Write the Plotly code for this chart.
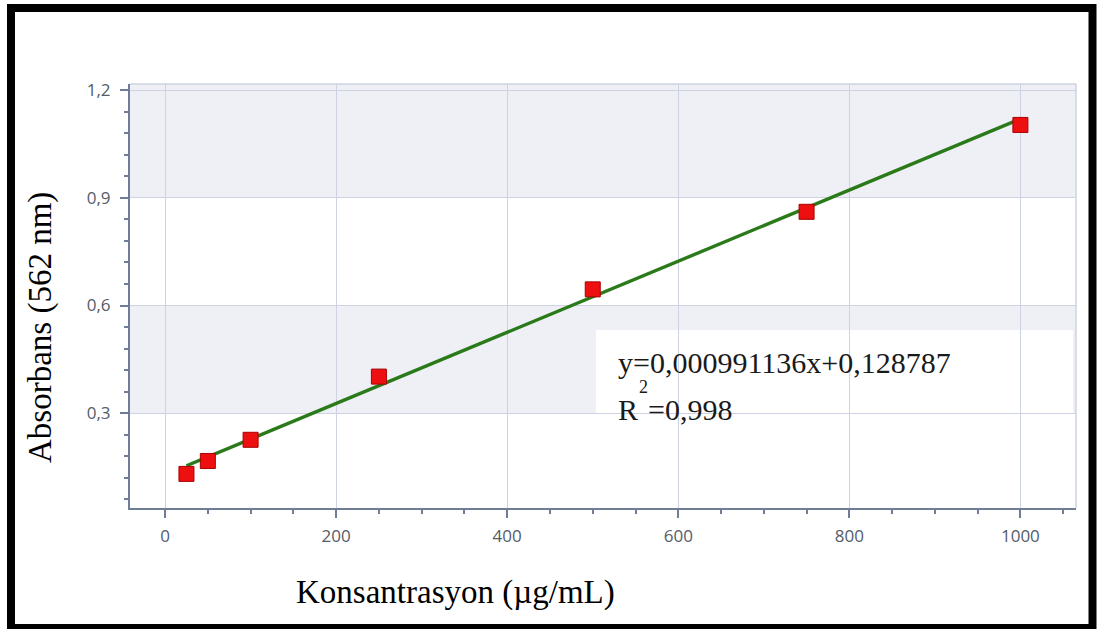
import plotly.graph_objects as go

# Data
conc = [25, 50, 100, 250, 500, 750, 1000]
absorb = [0.131, 0.167, 0.226, 0.402, 0.645, 0.861, 1.103]

# Regression line (as shown in the equation)
fit_x = [25, 1000]
fit_y = [0.1536, 1.1199]

x_ticks = [0, 200, 400, 600, 800, 1000]
y_ticks = [0.3, 0.6, 0.9, 1.2]
y_tick_labels = ["0,3", "0,6", "0,9", "1,2"]

eq_text = "y=0,000991136x+0,128787"
r2_value = "=0,998"

W, H = 1098, 629
L, R, T, B = 130, 22, 84, 121
pw, ph = W - L - R, H - T - B

def px(x):
    return (x - L) / pw

def py(y):
    return (H - B - y) / ph

axis_color = "#6f7d96"
grid_color = "#cdd3e2"
band_color = "#eef0f6"
tick_font = dict(family="Open Sans", size=17, color="#545c68")
serif = "Liberation Serif"

fig = go.Figure()

fig.add_trace(go.Scatter(
    x=fit_x, y=fit_y, mode="lines",
    line=dict(color="#2a7a1a", width=3.4),
    hoverinfo="skip", showlegend=False,
))
fig.add_trace(go.Scatter(
    x=conc, y=absorb, mode="markers",
    marker=dict(symbol="square", size=15, color="#ee1010",
                line=dict(color="#a80000", width=1)),
    showlegend=False,
))

shapes = []
# shaded bands
shapes.append(dict(type="rect", xref="paper", yref="y", x0=0, x1=1, y0=0.9, y1=1.25,
                   fillcolor=band_color, line=dict(width=0), layer="below"))
shapes.append(dict(type="rect", xref="paper", yref="y", x0=0, x1=1, y0=0.3, y1=0.6,
                   fillcolor=band_color, line=dict(width=0), layer="below"))
# equation box
shapes.append(dict(type="rect", xref="paper", yref="paper",
                   x0=px(596), x1=px(1073), y0=py(450), y1=py(330),
                   fillcolor="white", line=dict(width=0), layer="between"))
# light top/right frame of plot area
shapes.append(dict(type="line", xref="paper", yref="paper", x0=0, x1=1, y0=1, y1=1,
                   line=dict(color=grid_color, width=1.5)))
shapes.append(dict(type="line", xref="paper", yref="paper", x0=1, x1=1, y0=0, y1=1,
                   line=dict(color=grid_color, width=1.5)))
# outer black frame
shapes.append(dict(type="rect", xref="paper", yref="paper",
                   x0=px(11), x1=px(1092.5), y0=py(628), y1=py(8),
                   fillcolor="rgba(0,0,0,0)", line=dict(color="black", width=8),
                   layer="above"))

annotations = [
    dict(text=eq_text, xref="paper", yref="paper", x=px(616), y=py(362),
         xanchor="left", yanchor="middle", showarrow=False,
         font=dict(family=serif, size=30, color="#1a1a1a")),
    dict(text="R", xref="paper", yref="paper", x=px(616), y=py(409),
         xanchor="left", yanchor="middle", showarrow=False,
         font=dict(family=serif, size=30, color="#1a1a1a")),
    dict(text="2", xref="paper", yref="paper", x=px(643), y=py(387),
         xanchor="center", yanchor="middle", showarrow=False,
         font=dict(family=serif, size=18, color="#1a1a1a")),
    dict(text=r2_value, xref="paper", yref="paper", x=px(646), y=py(409),
         xanchor="left", yanchor="middle", showarrow=False,
         font=dict(family=serif, size=30, color="#1a1a1a")),
    dict(text="Absorbans (562 nm)", xref="paper", yref="paper", x=px(40), y=py(328),
         xanchor="center", yanchor="middle", textangle=-90, showarrow=False,
         font=dict(family=serif, size=33, color="black")),
    dict(text="Konsantrasyon (µg/mL)", xref="paper", yref="paper", x=px(455), y=py(592),
         xanchor="center", yanchor="middle", showarrow=False,
         font=dict(family=serif, size=33, color="black")),
]

fig.update_layout(
    width=W, height=H,
    margin=dict(l=L, r=R, t=T, b=B, pad=0),
    paper_bgcolor="white", plot_bgcolor="white",
    shapes=shapes, annotations=annotations,
    showlegend=False,
    xaxis=dict(
        range=[-41, 1065], tickvals=x_ticks, ticktext=[str(v) for v in x_ticks],
        showgrid=True, gridcolor=grid_color, gridwidth=1,
        zeroline=False, showline=True, linecolor=axis_color, linewidth=2,
        ticks="outside", ticklen=8, tickwidth=1.5, tickcolor=axis_color,
        tickfont=tick_font, ticklabelstandoff=4,
        minor=dict(tickvals=[v for v in range(0, 1051, 50) if v % 200 != 0],
                   ticks="outside", ticklen=4, tickwidth=1.5, tickcolor=axis_color,
                   showgrid=False),
    ),
    yaxis=dict(
        range=[0.036, 1.217], tickvals=y_ticks, ticktext=y_tick_labels,
        showgrid=True, gridcolor=grid_color, gridwidth=1,
        zeroline=False, showline=True, linecolor=axis_color, linewidth=2,
        ticks="outside", ticklen=8, tickwidth=1.5, tickcolor=axis_color,
        tickfont=tick_font, ticklabelstandoff=6,
        minor=dict(tickvals=[0.06, 0.12, 0.18, 0.24, 0.36, 0.42, 0.48, 0.54,
                             0.66, 0.72, 0.78, 0.84, 0.96, 1.02, 1.08, 1.14],
                   ticks="outside", ticklen=4, tickwidth=1.5, tickcolor=axis_color,
                   showgrid=False),
    ),
)

fig.write_html(
    "out.html",
    config={"displayModeBar": False},
    post_script="document.body.style.margin='0';document.body.style.overflow='hidden';",
)
